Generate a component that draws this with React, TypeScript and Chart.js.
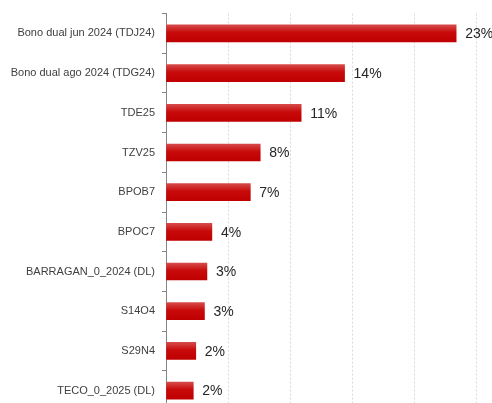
import React, { useEffect, useRef } from "react";
import { Chart, registerables } from "chart.js";

Chart.register(...registerables);

const categories = [
  "Bono dual jun 2024 (TDJ24)",
  "Bono dual ago 2024 (TDG24)",
  "TDE25",
  "TZV25",
  "BPOB7",
  "BPOC7",
  "BARRAGAN_0_2024 (DL)",
  "S14O4",
  "S29N4",
  "TECO_0_2025 (DL)",
];
const values = [23.4, 14.4, 10.9, 7.6, 6.8, 3.7, 3.3, 3.1, 2.4, 2.2];
const valueLabels = ["23%", "14%", "11%", "8%", "7%", "4%", "3%", "3%", "2%", "2%"];
const xTicks = [0, 5, 10, 15, 20, 25];

const valueLabelPlugin = {
  id: "valueLabels",
  afterDatasetsDraw(chart: any) {
    const ctx = chart.ctx;
    const meta = chart.getDatasetMeta(0);
    ctx.save();
    ctx.font = "14px 'Liberation Sans', Arial, sans-serif";
    ctx.fillStyle = "#262626";
    ctx.textAlign = "left";
    ctx.textBaseline = "middle";
    meta.data.forEach((bar: any, i: number) => {
      ctx.fillText(valueLabels[i], bar.x + 9, bar.y + 1);
    });
    ctx.restore();
  },
};

export default function App() {
  const ref = useRef<HTMLCanvasElement | null>(null);
  useEffect(() => {
    if (!ref.current) return;
    const chart = new Chart(ref.current, {
      type: "bar",
      data: {
        labels: categories,
        datasets: [
          {
            data: values,
            barThickness: 17,
            backgroundColor: (c: any) => {
              const ch = c.chart;
              const ys = ch.scales && ch.scales.y;
              if (!ys || c.dataIndex === undefined || !ch.chartArea) return "#c00000";
              const yc = ys.getPixelForTick(c.dataIndex);
              const g = ch.ctx.createLinearGradient(0, yc - 8.5, 0, yc + 8.5);
              g.addColorStop(0, "#d64a4a");
              g.addColorStop(0.45, "#c80a0a");
              g.addColorStop(1, "#c00000");
              return g;
            },
            borderWidth: 0,
          },
        ],
      },
      options: {
        indexAxis: "y",
        animation: false,
        responsive: false,
        maintainAspectRatio: false,
        layout: { padding: { top: 9, right: 16, bottom: 0, left: 0 } },
        plugins: { legend: { display: false }, tooltip: { enabled: false } },
        scales: {
          x: {
            min: 0,
            max: 25,
            afterBuildTicks: (s: any) => {
              s.ticks = xTicks.map((v) => ({ value: v }));
            },
            ticks: { display: false },
            border: { display: false, dash: [2, 2] },
            grid: {
              color: (c: any) => (c.tick && c.tick.value === 0 ? "rgba(0,0,0,0)" : "#d9d9d9"),
              lineWidth: 1,
              drawTicks: false,
            },
          },
          y: {
            afterFit: (s: any) => {
              s.width = 166;
            },
            border: { display: true, color: "#868686", width: 1 },
            grid: {
              display: true,
              drawOnChartArea: false,
              drawTicks: true,
              tickLength: 4,
              color: "#868686",
              offset: true,
            },
            ticks: {
              color: "#404040",
              padding: 7,
              font: { family: "'Liberation Sans', Arial, sans-serif", size: 11 },
            },
          },
        },
      },
      plugins: [valueLabelPlugin],
    });
    return () => chart.destroy();
  }, []);
  return (
    <div style={{ position: "fixed", left: 0, top: 0, width: 492, height: 424, background: "#fff" }}>
      <canvas ref={ref} width={492} height={424} style={{ display: "block" }} />
    </div>
  );
}
